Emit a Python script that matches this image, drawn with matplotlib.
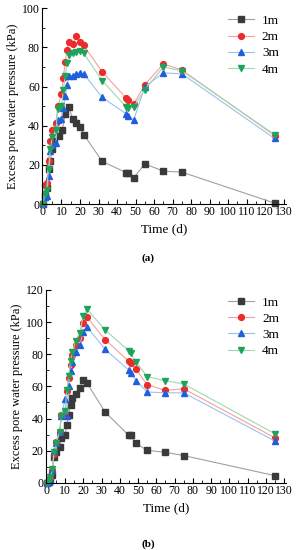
import matplotlib.pyplot as plt
from matplotlib.ticker import MultipleLocator

plt.rcParams['font.family'] = ['Liberation Serif', 'DejaVu Serif']

# ---------------- (a) ----------------
t_a = [0, 1, 2, 3, 4, 5, 7, 8, 10, 11, 12, 13, 14, 16, 18, 20, 22, 32, 45, 46, 49, 55, 65, 75, 125]
t_a_1m = [0, 1, 2, 3, 4, 5, 6, 8.5, 10.5, 12, 14, 16, 18, 20, 22, 32, 45, 46, 49, 55, 65, 75, 125]
a_1m = [0, 4, 8, 18, 22, 28, 32, 35, 38, 46, 49.5, 43.5, 41.5, 39.5, 35.5, 21.8, 16, 15.7, 13.4, 20.5, 16.8, 16.3, 0.5]
a_2m = [0, 9.5, 10.5, 22, 32, 38, 41.5, 50, 56, 64.5, 72.5, 78.5, 83, 81.5, 86, 83, 81, 67.5, 54, 53, 51, 61, 71.5, 68.5, 35]
a_3m = [0, 3.5, 4, 14.5, 27, 30, 31, 43, 43.5, 49, 55, 61, 65.5, 65.5, 66.5, 67, 66.5, 54.5, 46, 45, 43, 60, 67, 66.5, 33.5]
a_4m = [0, 5, 7, 18, 28, 34, 38, 48.5, 50, 58, 65.5, 72, 76, 77, 77.5, 78, 77, 63, 49.5, 49, 49.5, 58.5, 70, 68, 35.5]

# ---------------- (b) ----------------
t_b = [0, 1, 2, 3, 4, 5, 7, 8, 10, 11, 12, 13, 14, 16, 18, 20, 22, 32, 45, 46, 49, 55, 65, 75, 125]
t_b_1m = [0, 1, 2, 3, 4, 5, 7, 8, 10, 11, 12, 13, 14, 16, 18, 20, 22, 32, 45, 46, 49, 55, 65, 75, 125]
b_1m = [0, 0.5, 2, 5, 16, 19.5, 22.5, 28, 30, 36, 42.5, 48.5, 53, 55.5, 59, 64, 62, 44, 29.5, 29.5, 24.5, 20.2, 19, 17, 4.5]
b_2m = [0, 1, 3, 8, 18, 25.5, 31.5, 42, 43.5, 57, 65.5, 73.5, 79.5, 85.5, 90, 99.5, 103, 89, 75.5, 74.5, 70.5, 61, 57.5, 58.5, 28]
b_3m = [0, 0.5, 2, 8, 20, 24.5, 31.5, 41.5, 52, 41.5, 60.5, 69.5, 75, 81.5, 85.5, 94, 97, 83, 70, 68.5, 63.5, 56.5, 56, 56, 26]
b_4m = [0, 1, 3.5, 8.5, 19, 24.5, 31.5, 41.5, 44.5, 58, 66.5, 75.5, 81.5, 88.5, 93, 104, 108, 95, 82, 80.5, 75, 66, 63.5, 61.5, 30.5]

labels = ['1m', '2m', '3m', '4m']
markers = ['s', 'o', '^', 'v']
mcolors = ['#3a3a3a', '#ee2b2b', '#1f5fdc', '#1fa35a']
lcolors = ['#a0a0a0', '#f4a0a0', '#9cc0ee', '#9ed8b0']

fig = plt.figure(figsize=(2.96, 5.5), dpi=100)
ax1 = fig.add_axes([0.142, 0.629, 0.823, 0.356])
ax2 = fig.add_axes([0.155, 0.122, 0.811, 0.351])


def draw(ax, series, ymax, ystep):
    for (tt, yy), lab, mk, mc, lc in zip(series, labels, markers, mcolors, lcolors):
        ax.plot(tt, yy, color=lc, lw=0.8, marker=mk, markersize=4.2,
                markerfacecolor=mc, markeredgecolor=mc, label=lab, clip_on=False)
    ax.set_xlim(-0.5, 131)
    ax.set_ylim(0, ymax)
    ax.set_xticks(range(0, 131, 10))
    ax.xaxis.set_minor_locator(MultipleLocator(5))
    ax.set_yticks(range(0, ymax + 1, ystep))
    ax.yaxis.set_minor_locator(MultipleLocator(ystep / 2))
    for s in ['top', 'right']:
        ax.spines[s].set_visible(False)
    ax.tick_params(which='both', direction='in', labelsize=8.5, pad=1.5)
    ax.tick_params(which='major', length=3.5, width=0.8)
    ax.tick_params(which='minor', length=2, width=0.6)
    ax.set_xlabel('Time (d)', fontsize=9.5, labelpad=4)
    ax.set_ylabel('Excess pore water pressure (kPa)', fontsize=9, labelpad=2)
    ax.legend(loc='upper right', frameon=False, fontsize=9.5, handlelength=2.0,
              labelspacing=0.3, borderaxespad=0.1, handletextpad=0.6)


draw(ax1, [(t_a_1m, a_1m), (t_a, a_2m), (t_a, a_3m), (t_a, a_4m)], 100, 20)
draw(ax2, [(t_b_1m, b_1m), (t_b, b_2m), (t_b, b_3m), (t_b, b_4m)], 120, 20)

fig.text(0.5, 1 - 258 / 550, '(a)', ha='center', va='center', fontsize=8, fontweight='bold')
fig.text(0.5, 1 - 544 / 550, '(b)', ha='center', va='center', fontsize=8, fontweight='bold')

fig.savefig('out.png', dpi=100)
